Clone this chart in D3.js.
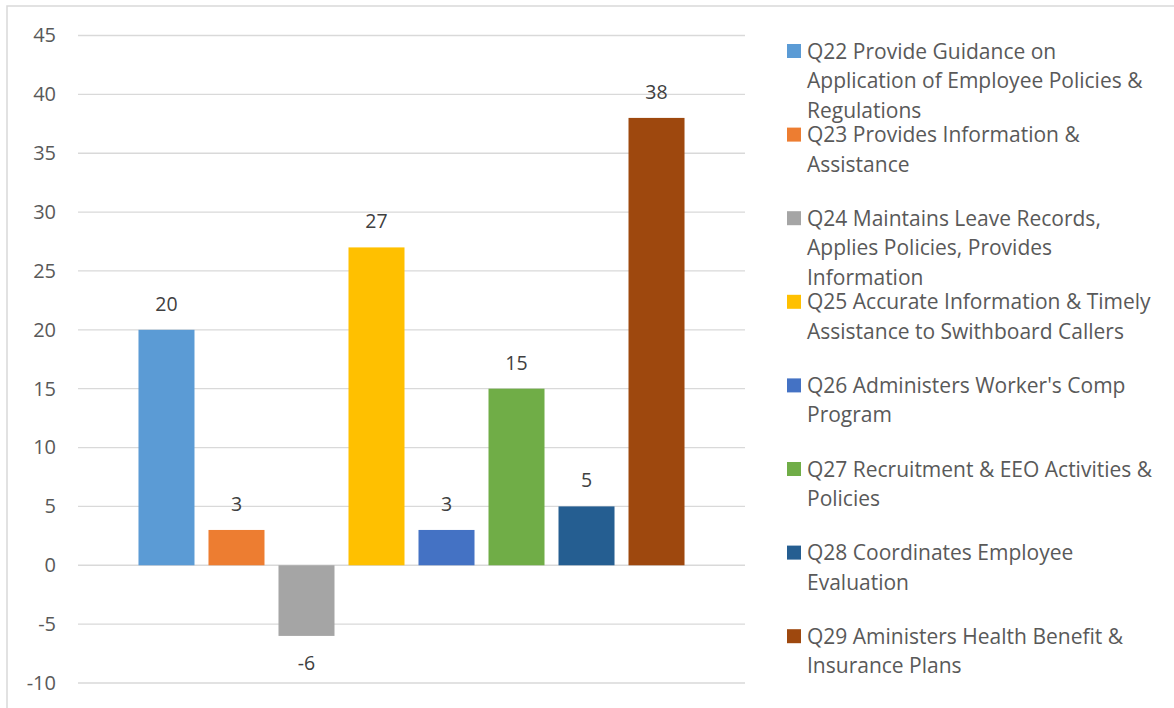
<!DOCTYPE html>
<html>
<head>
<meta charset="utf-8">
<script src="https://cdn.jsdelivr.net/npm/d3@7"></script>
<style>
  html, body { margin: 0; padding: 0; background: #fff; }
  svg { display: block; font-family: "Open Sans", sans-serif; }
</style>
</head>
<body>
<svg id="chart" width="1174" height="708"></svg>
<script>
// Survey items (one series per item) and their scores
const seriesNames = [
  "Q22 Provide Guidance on Application of Employee Policies & Regulations",
  "Q23 Provides Information & Assistance",
  "Q24 Maintains Leave Records, Applies Policies, Provides Information",
  "Q25 Accurate Information & Timely Assistance to Swithboard Callers",
  "Q26 Administers Worker's Comp Program",
  "Q27 Recruitment & EEO Activities & Policies",
  "Q28 Coordinates Employee Evaluation",
  "Q29 Aministers Health Benefit & Insurance Plans"
];
const seriesValues = [20, 3, -6, 27, 3, 15, 5, 38];
// Legend text, wrapped as it is laid out
const legendLines = [
  ["Q22 Provide Guidance on", "Application of Employee Policies &", "Regulations"],
  ["Q23 Provides Information &", "Assistance"],
  ["Q24 Maintains Leave Records,", "Applies Policies, Provides", "Information"],
  ["Q25 Accurate Information & Timely", "Assistance to Swithboard Callers"],
  ["Q26 Administers Worker's Comp", "Program"],
  ["Q27 Recruitment & EEO Activities &", "Policies"],
  ["Q28 Coordinates Employee", "Evaluation"],
  ["Q29 Aministers Health Benefit &", "Insurance Plans"]
];
const seriesColors = ["#5B9BD5", "#ED7D31", "#A5A5A5", "#FFC000", "#4472C4", "#70AD47", "#255E91", "#9E480E"];
const yTicks = [-10, -5, 0, 5, 10, 15, 20, 25, 30, 35, 40, 45];

const svg = d3.select("#chart");

// Chart frame
svg.append("rect")
  .attr("x", 7).attr("y", 6)
  .attr("width", 1180).attr("height", 720)
  .attr("fill", "#fff")
  .attr("stroke", "#d9d9d9").attr("stroke-width", 1.5);

const plot = { left: 78, right: 745, top: 35.5, bottom: 683 };

const y = d3.scaleLinear().domain([-10, 45]).range([plot.bottom, plot.top]);
const x = d3.scaleBand()
  .domain(seriesNames)
  .range([plot.left, plot.right])
  .paddingInner(0.2)
  .paddingOuter(0.864);

// Gridlines
svg.append("g")
  .selectAll("line")
  .data(yTicks)
  .join("line")
  .attr("x1", plot.left).attr("x2", plot.right)
  .attr("y1", d => y(d)).attr("y2", d => y(d))
  .attr("stroke", "#d9d9d9").attr("stroke-width", 1.3);

// Y axis labels
const yAxis = d3.axisLeft(y).tickValues(yTicks).tickSize(0).tickPadding(0)
  .tickFormat(d => String(d));
const gy = svg.append("g")
  .attr("transform", `translate(56,0)`)
  .call(yAxis);
gy.select(".domain").remove();
gy.selectAll("text")
  .attr("fill", "#595959")
  .style("font-size", "20px")
  .style("font-family", "'Open Sans', sans-serif");

// Bars
svg.append("g")
  .selectAll("rect")
  .data(seriesValues)
  .join("rect")
  .attr("x", (d, i) => x(seriesNames[i]))
  .attr("width", x.bandwidth())
  .attr("y", d => y(Math.max(0, d)))
  .attr("height", d => Math.abs(y(d) - y(0)))
  .attr("fill", (d, i) => seriesColors[i]);

// Value labels
svg.append("g")
  .selectAll("text")
  .data(seriesValues)
  .join("text")
  .attr("x", (d, i) => x(seriesNames[i]) + x.bandwidth() / 2)
  .attr("y", d => d >= 0 ? y(d) - 19 : y(d) + 34)
  .attr("text-anchor", "middle")
  .attr("fill", "#404040")
  .style("font-size", "19.5px")
  .text(d => String(d));

// Legend
const legend = svg.append("g");
const entry = legend.selectAll("g")
  .data(legendLines)
  .join("g")
  .attr("transform", (d, i) => `translate(787,${51 + i * 83.6})`);
entry.append("rect")
  .attr("x", 0).attr("y", -7)
  .attr("width", 14).attr("height", 14)
  .attr("fill", (d, i) => seriesColors[i]);
entry.each(function(lines) {
  d3.select(this).selectAll("text")
    .data(lines)
    .join("text")
    .attr("x", 20)
    .attr("y", (l, j) => j * 29.6 + 7.5)
    .attr("fill", "#595959")
    .style("font-size", "21px")
    .text(l => l);
});
</script>
</body>
</html>
